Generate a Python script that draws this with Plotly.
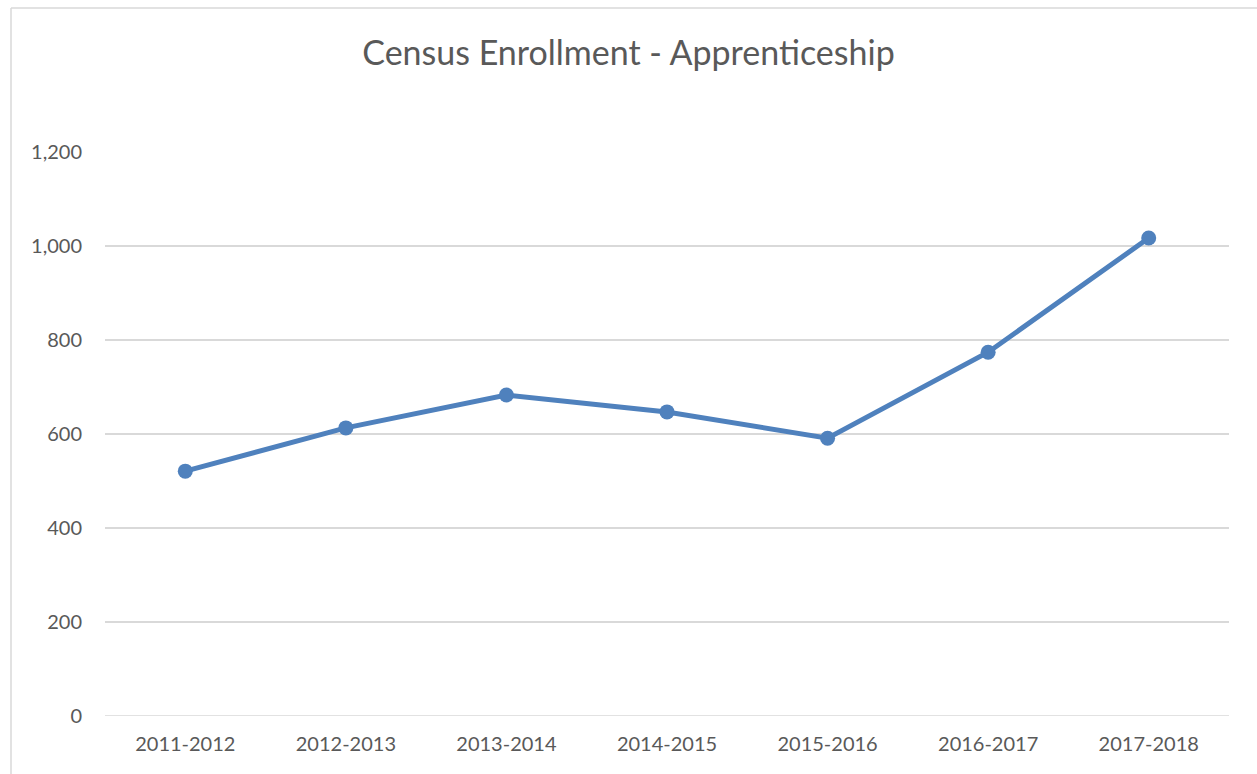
import plotly.graph_objects as go

years = ["2011-2012", "2012-2013", "2013-2014", "2014-2015", "2015-2016", "2016-2017", "2017-2018"]
enrollment = [521, 613, 683, 647, 591, 774, 1017]
y_ticks = [0, 200, 400, 600, 800, 1000, 1200]
y_tick_labels = ["0", "200", "400", "600", "800", "1,000", "1,200"]

W, H = 1257, 774
L, R, T, B = 105, 1229, 152, 716

def px_x(px):
    return (px - L) / (R - L)

def px_y(py):
    return (B - py) / (B - T)

fig = go.Figure()
fig.add_trace(go.Scatter(
    x=years, y=enrollment, mode="lines+markers",
    line=dict(color="#4f81bd", width=5),
    marker=dict(color="#4f81bd", size=15),
    showlegend=False, hoverinfo="x+y",
))

fig.update_layout(
    width=W, height=H,
    margin=dict(l=L, r=W - R, t=T, b=H - B, autoexpand=False),
    paper_bgcolor="white", plot_bgcolor="white",
    title=dict(text="Census Enrollment - Apprenticeship", x=0.5, xref="container",
               y=1 - 53 / H, yanchor="middle",
               font=dict(family="Lato", size=34, color="#595959")),
    font=dict(family="Lato", color="#595959", size=20),
    xaxis=dict(type="category", range=[-0.5, 6.5], showgrid=False, zeroline=False,
               showline=False, ticks="", ticklabelstandoff=14,
               tickfont=dict(size=20, color="#595959")),
    yaxis=dict(range=[0, 1200], tickvals=y_ticks, ticktext=y_tick_labels,
               showgrid=True, gridcolor="#d9d9d9", gridwidth=1.6, zeroline=False,
               showline=False, ticks="", ticklabelstandoff=22,
               tickfont=dict(size=20, color="#595959")),
    shapes=[
        dict(type="line", xref="paper", yref="paper", x0=px_x(11), x1=px_x(11),
             y0=px_y(8), y1=px_y(H + 5), line=dict(color="#d9d9d9", width=1.5)),
        dict(type="line", xref="paper", yref="paper", x0=px_x(11), x1=px_x(W + 5),
             y0=px_y(8), y1=px_y(8), line=dict(color="#d9d9d9", width=1.5)),
        dict(type="line", xref="paper", yref="y", x0=0, x1=1, y0=0, y1=0,
             line=dict(color="#d9d9d9", width=1.6), layer="below"),
    ],
)

fig.write_html("out.html", config={"displayModeBar": False},
               post_script="document.body.style.margin='0';document.body.style.padding='0';")
